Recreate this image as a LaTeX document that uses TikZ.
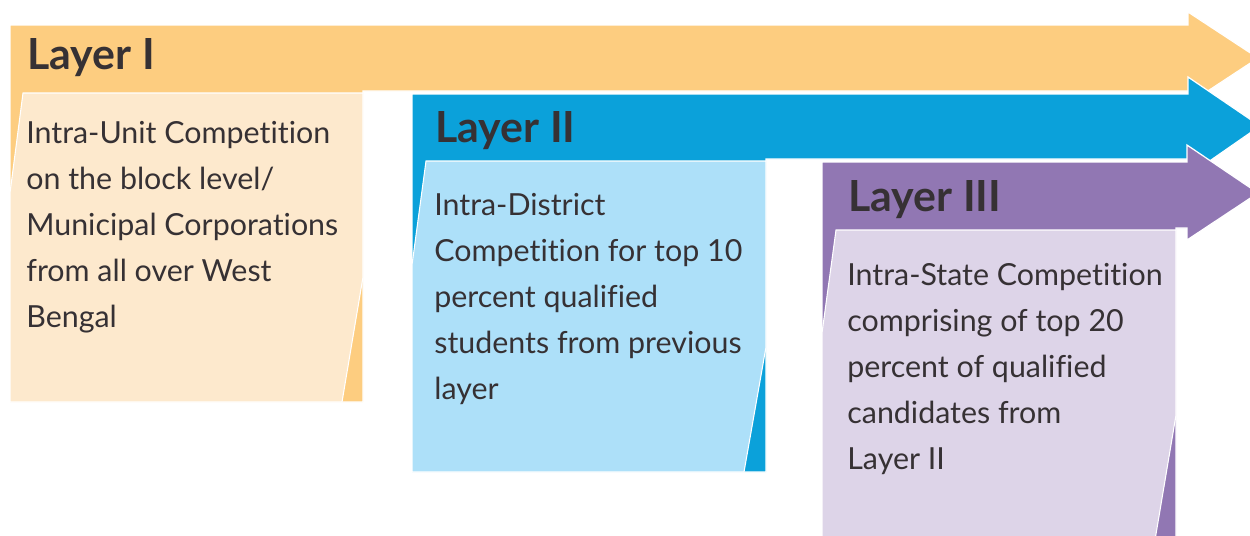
\documentclass[tikz,border=0pt]{standalone}
\usepackage{fontspec}
\setmainfont{Lato}[Ligatures=NoCommon]
\usetikzlibrary{positioning}

\definecolor{yelDark}{HTML}{FDCD80}
\definecolor{yelLight}{HTML}{FDE9CD}
\definecolor{bluDark}{HTML}{0BA1DA}
\definecolor{bluLight}{HTML}{ADE0F9}
\definecolor{purDark}{HTML}{9177B3}
\definecolor{purLight}{HTML}{DDD4E8}
\definecolor{txt}{HTML}{363134}

\newcommand{\notelines}[1]{\parbox[t]{6.8cm}{\raggedright #1}}

\begin{document}
\begin{tikzpicture}[x=0.02cm,y=-0.02cm]

\tikzset{
    band/.style={fill=#1, draw=white, line width=0.7pt},
    note/.style={fill=#1, draw=white, line width=0.6pt},
    title/.style={anchor=base west, inner sep=0pt, text=txt,
        font=\fontsize{24.4}{28}\selectfont\bfseries},
    body/.style={anchor=base west, inner sep=0pt, text=txt,
        font=\fontsize{17.3}{26.2}\selectfont}}

\clip (0,0) rectangle (1250,535);

% Layer I
\draw[band=yelDark] (10,25) -- (1188,25) -- (1188,12) -- (1258,58) -- (1188,104)
    -- (1188,91) -- (363,91) -- (363,402) -- (10,402) -- cycle;
\draw[note=yelLight] (23,93) -- (363,93) -- (363,277) -- (342,402) -- (10,402)
    -- (10,193) -- cycle;

% Layer II
\draw[band=bluDark] (412,94) -- (1188,94) -- (1188,77) -- (1260,126) -- (1188,176)
    -- (1188,159) -- (766,159) -- (766,472) -- (412,472) -- cycle;
\draw[note=bluLight] (426,161) -- (766,161) -- (766,347) -- (744,472) -- (412,472)
    -- (412,265) -- cycle;

% Layer III
\draw[band=purDark] (822,162) -- (1187,162) -- (1187,145) -- (1258,193) -- (1187,240)
    -- (1187,228) -- (1176,228) -- (1176,540) -- (822,540) -- cycle;
\draw[note=purLight] (836,230) -- (1176,230) -- (1176,415) -- (1155,540) -- (822,540)
    -- (822,333) -- cycle;

\node[title] (t1) at (27,69) {Layer I};
\node[title] (t2) at (435,142) {Layer II};
\node[title] (t3) at (848,211) {Layer III};

\node[body] (b1) at (26,143) {\notelines{Intra-Unit Competition\\on the block level/\\Municipal Corporations\\from all over West\\Bengal}};
\node[body] (b2) at (434,215) {\notelines{Intra-District\\Competition for top 10\\percent qualified\\students from previous\\layer}};
\node[body] (b3) at (847,285) {\notelines{Intra-State Competition\\comprising of top 20\\percent of qualified\\candidates from\\Layer II}};

\end{tikzpicture}
\end{document}
